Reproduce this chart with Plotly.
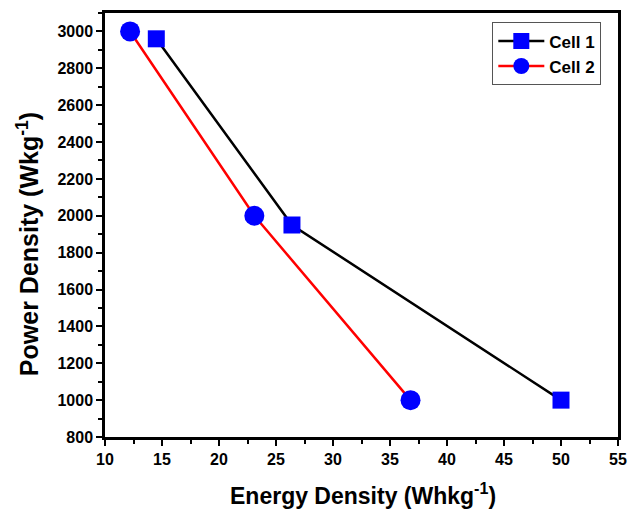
import plotly.graph_objects as go

# Energy density (Wh/kg) vs power density (W/kg)
cell1_energy = [14.5, 26.4, 50.0]
cell1_power = [2960, 1950, 1000]
cell2_energy = [12.2, 23.1, 36.8]
cell2_power = [3000, 2000, 1000]

x_ticks = [10, 15, 20, 25, 30, 35, 40, 45, 50, 55]
y_ticks = [800, 1000, 1200, 1400, 1600, 1800, 2000, 2200, 2400, 2600, 2800, 3000]

font_family = "Liberation Sans, Arial, sans-serif"

fig = go.Figure()
fig.add_trace(go.Scatter(
    x=cell1_energy, y=cell1_power, name="<b>Cell 1</b>", mode="lines+markers",
    line=dict(color="black", width=2.5),
    marker=dict(symbol="square", size=17, color="#0000ff"),
))
fig.add_trace(go.Scatter(
    x=cell2_energy, y=cell2_power, name="<b>Cell 2</b>", mode="lines+markers",
    line=dict(color="#ff0000", width=2.5),
    marker=dict(symbol="circle", size=20, color="#0000ff"),
))

axis_common = dict(
    showline=True, linecolor="black", linewidth=2.5, mirror=True,
    ticks="outside", ticklen=6, tickwidth=2, tickcolor="black",
    showgrid=False, zeroline=False,
    tickfont=dict(family=font_family, size=16, color="black"),
)

fig.update_layout(
    width=636, height=510,
    margin=dict(l=105, r=9, t=13, b=73),
    paper_bgcolor="white", plot_bgcolor="white",
    showlegend=True,
    legend=dict(
        x=0.755, y=0.978, xanchor="left", yanchor="top",
        bgcolor="white", bordercolor="#555555", borderwidth=1,
        font=dict(family=font_family, size=17, color="black"),
        tracegroupgap=0, itemwidth=46,
    ),
    xaxis=dict(
        range=[10, 55], tickvals=x_ticks,
        ticktext=[f"<b>{v}</b>" for v in x_ticks],
        minor=dict(dtick=2.5, tick0=10, ticks="outside", ticklen=4, tickwidth=2, tickcolor="black"),
        **axis_common,
    ),
    yaxis=dict(
        range=[800, 3100], tickvals=y_ticks,
        ticktext=[f"<b>{v}</b>" for v in y_ticks],
        minor=dict(dtick=100, tick0=800, ticks="outside", ticklen=4, tickwidth=2, tickcolor="black"),
        **axis_common,
    ),
    annotations=[
        dict(text="<b>Energy Density (Whkg<sup>-1</sup>)</b>", xref="paper", yref="paper",
             x=0.503, y=-0.135, xanchor="center", yanchor="middle", showarrow=False,
             font=dict(family=font_family, size=23, color="black")),
        dict(text="<b>Power Density (Wkg<sup>-1</sup>)</b>", xref="paper", yref="paper",
             x=-0.15, y=0.455, xanchor="center", yanchor="middle", showarrow=False,
             textangle=-90,
             font=dict(family=font_family, size=25, color="black")),
    ],
)

fig.write_html("out.html")
